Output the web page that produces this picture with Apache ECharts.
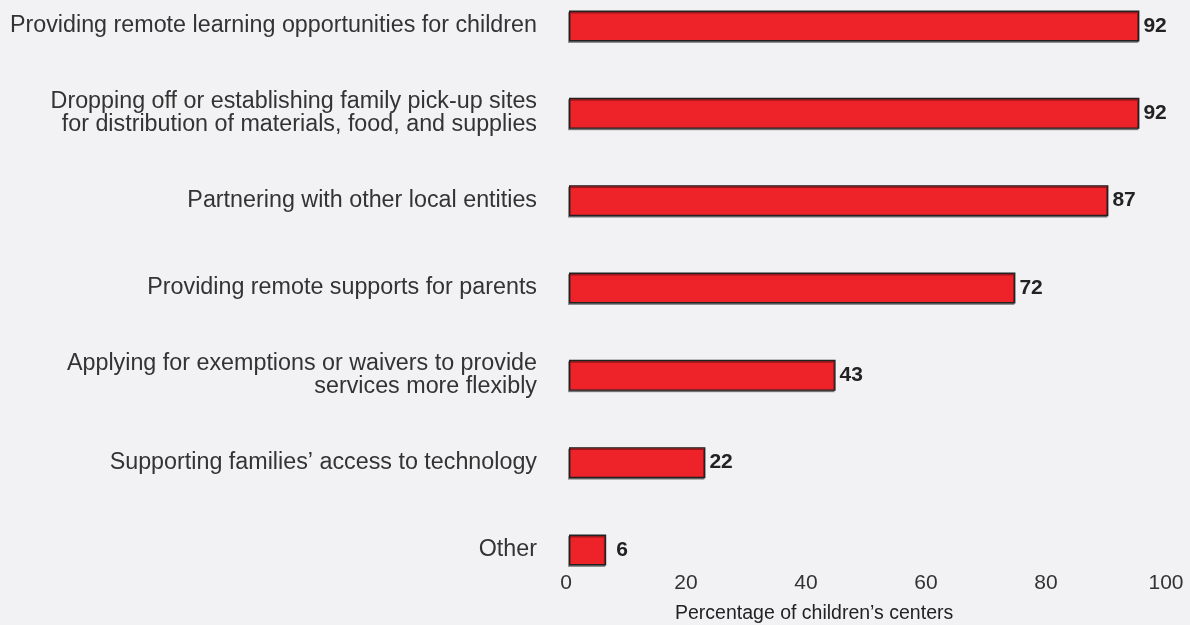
<!DOCTYPE html>
<html>
<head>
<meta charset="utf-8">
<script src="https://cdn.jsdelivr.net/npm/echarts@6/dist/echarts.min.js"></script>
<style>
  html, body { margin: 0; padding: 0; background: #f2f2f4; }
  #chart { width: 1190px; height: 625px; }
</style>
</head>
<body>
<div id="chart"></div>
<script>
// Activities reported by children's centers, share of centers (%)
const categories = [
  'Providing remote learning opportunities for children',
  'Dropping off or establishing family pick-up sites\nfor distribution of materials, food, and supplies',
  'Partnering with other local entities',
  'Providing remote supports for parents',
  'Applying for exemptions or waivers to provide\nservices more flexibly',
  'Supporting families\u2019 access to technology',
  'Other'
];
const values = [92, 92, 87, 72, 43, 22, 6];
const tickValues = [0, 20, 40, 60, 80, 100];
const axisTitle = 'Percentage of children\u2019s centers';

const FONT = '"Liberation Sans", Arial, Helvetica, sans-serif';
const chart = echarts.init(document.getElementById('chart'));

// short bars get a little more room before their value label
const barData = values.map(v => v < 10 ? { value: v, label: { distance: 10 } } : v);

chart.setOption({
  backgroundColor: '#f2f2f4',
  animation: false,
  textStyle: { fontFamily: FONT },
  grid: [
    { left: 569, width: 620, top: 26, height: 524 },
    { left: 566, width: 600, top: 0, height: 573 }
  ],
  xAxis: [
    { gridIndex: 0, type: 'value', min: 0, max: 100, show: false },
    {
      gridIndex: 1, type: 'value', min: 0, max: 100, interval: 20,
      axisLine: { show: false }, axisTick: { show: false }, splitLine: { show: false },
      axisLabel: {
        color: '#333', fontSize: 21, margin: 0, fontFamily: FONT,
        formatter: v => tickValues.includes(v) ? String(v) : ''
      }
    }
  ],
  yAxis: [
    {
      gridIndex: 0, type: 'category', data: categories, inverse: true, boundaryGap: false,
      axisLine: { show: false }, axisTick: { show: false }, splitLine: { show: false },
      axisLabel: {
        color: '#333', fontSize: 23.3, lineHeight: 23, margin: 32, align: 'right', fontFamily: FONT
      }
    },
    { gridIndex: 1, type: 'value', show: false }
  ],
  title: {
    text: axisTitle, left: 670, top: 599,
    textStyle: { color: '#222', fontSize: 19.5, fontWeight: 'normal', fontFamily: FONT }
  },
  series: [{
    type: 'bar',
    xAxisIndex: 0, yAxisIndex: 0,
    data: barData,
    barWidth: 31,
    itemStyle: {
      color: '#ee2229',
      borderColor: '#222',
      borderWidth: 1.4,
      shadowColor: 'rgba(0,0,0,0.35)',
      shadowOffsetX: -1,
      shadowOffsetY: 1.5,
      shadowBlur: 0
    },
    label: {
      show: true, position: 'right', distance: 4,
      color: '#222', fontSize: 21, fontWeight: 'bold', fontFamily: FONT
    }
  }]
});
</script>
</body>
</html>
